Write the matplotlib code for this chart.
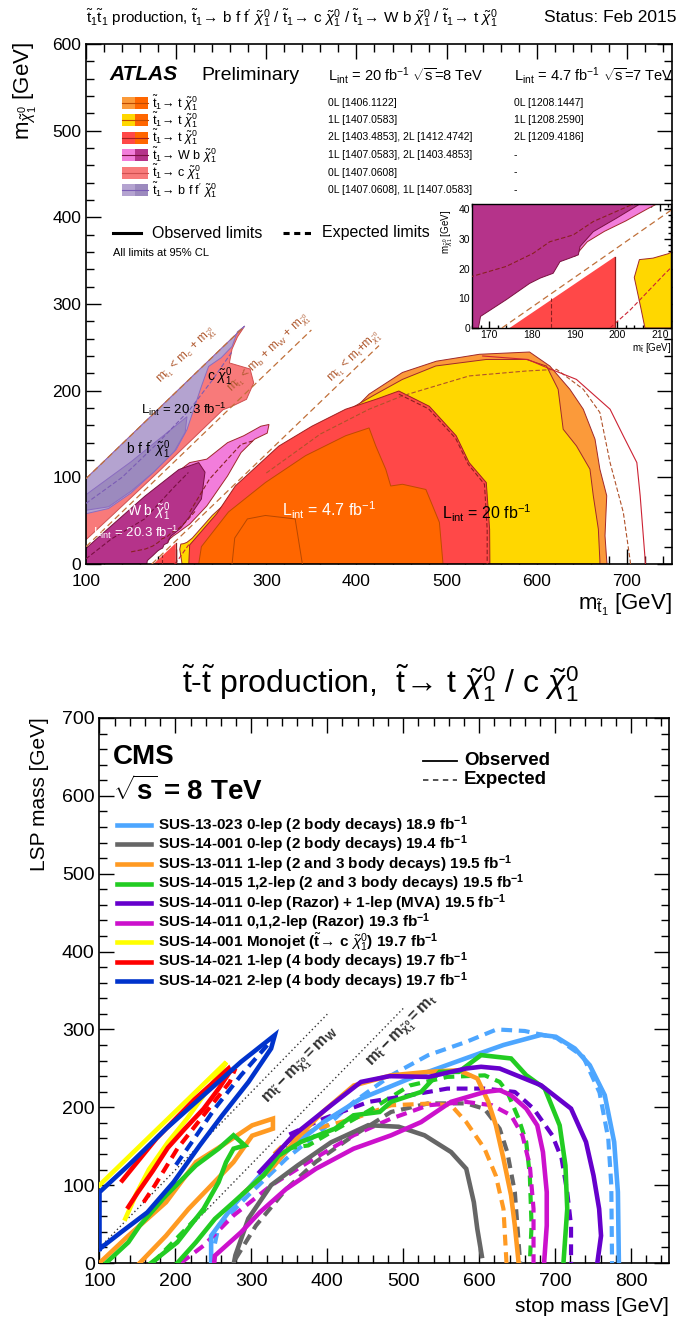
import matplotlib
matplotlib.use("Agg")
import matplotlib.pyplot as plt
from matplotlib.ticker import MultipleLocator
from matplotlib.patches import Rectangle
from matplotlib.lines import Line2D

plt.rcParams["font.family"] = ["Liberation Sans", "DejaVu Sans"]
plt.rcParams["mathtext.fontset"] = "custom"
plt.rcParams["mathtext.rm"] = "Liberation Sans"
plt.rcParams["mathtext.it"] = "Liberation Sans:italic"
plt.rcParams["mathtext.bf"] = "Liberation Sans:bold"
plt.rcParams["mathtext.sf"] = "Liberation Sans"

# ---------------- ATLAS contours (m_stop, m_LSP) in GeV ----------------
cc_salmon = [(100, 28), (100, 98.5), (276, 274.5), (268, 262), (262, 248), (259, 232),
             (282, 225), (286, 209), (278, 190), (262, 182), (252, 178), (180, 106), (130, 57)]
bff_light = [(100, 58), (100, 98.5), (276, 274.5), (268, 268), (262, 251), (250, 238),
             (236, 228), (228, 205), (220, 180), (212, 155), (200, 132), (175, 106),
             (150, 82), (125, 64)]
bff_dark = [(100, 62), (100, 80), (150, 118), (200, 160), (212, 170), (210, 152),
            (198, 130), (175, 106), (150, 84), (125, 66)]
wb_pink = [(190, 24), (193, 29), (197, 32.5), (202, 36), (207, 40), (215, 46), (234, 67),
           (257, 101.6), (272, 128.6), (287, 144), (301, 151), (303, 161), (294, 159),
           (275, 148), (257, 140), (234, 121), (215, 117), (200, 105)]
wb_magenta = [(100, 0), (100, 18), (128, 44), (165, 78), (203, 109), (225, 117), (232, 106),
              (228, 75), (215, 55), (205.3, 41.7), (199.8, 36.9), (194.4, 32.4), (191.3, 27.4),
              (190.9, 24.6), (188.9, 23.5), (186.6, 22.3), (185, 18.4), (182, 16.8),
              (179.5, 15), (174, 9.5), (168, 3.9), (167.5, 0)]
tt_0l = [(300, 0), (380, 160), (414, 196), (451, 221), (488.6, 234), (536.5, 242),
         (592, 244.6), (614.5, 228.4), (636.7, 201.6), (651.6, 178.6), (664.6, 144),
         (670, 109.4), (677.6, 78.7), (675.7, 32.6), (677.6, 3.8), (678, 0)]
tt_1l = [(206.5, 0), (205.5, 7), (204, 17), (205.2, 23), (208.4, 23.5), (212, 25), (218, 30),
         (240, 56), (284, 98), (329, 136), (373, 167), (418, 194), (451, 213), (488, 228.5),
         (544, 236), (588.5, 236), (610.8, 228.4), (623.7, 201.6), (629.3, 155.5),
         (644, 136.3), (659, 109.4), (662.7, 78.7), (668.3, 40.3), (670, 3.8), (670, 0)]
tt_2l = [(214, 0), (215, 22), (230, 40), (245, 58), (265.6, 90), (313.8, 136), (350.6, 159),
         (388, 178.6), (421.5, 190), (447, 199.6), (480.8, 182), (510.6, 148), (525, 117),
         (544, 94), (547.7, 40), (548, 0)]
tt_2l_low = [(174.8, 0), (199.5, 24), (199.5, 0)]
tt_7tev = [(225, 0), (228, 20), (258, 60), (299, 94), (343.5, 125), (388, 148), (414, 157),
           (421.5, 136), (432.6, 109), (438, 90), (451, 92), (477, 86), (492, 48), (496, 0)]
tt_7tev_in = [(262, 0), (265, 30), (279, 52), (299, 56), (332, 52), (340, 0)]
tt_1l_exp = [(300, 105), (360, 150), (414, 178.6), (451, 194), (525, 217), (588.5, 222.7),
             (622, 224.6), (651.6, 201.6), (670, 174.8), (681.3, 117), (696, 59.5),
             (703.6, 3.8), (704, 0)]
tt_0l_thin = [(540, 240), (590, 236), (607, 228.4), (644, 213), (681.3, 178.6), (696, 147.8),
              (711, 117), (714.7, 78.7), (720.3, 3.8), (720.5, 0)]
tt_2l_exp = [(447, 196), (480, 179), (510, 145), (524, 115), (542, 92), (545, 40), (545, 0)]
tt_2l_low_exp = [(184.6, 0), (184.6, 10)]
tt_1l_low_exp = [(198.3, 0), (203, 6), (207, 12), (211, 18), (214, 22.3)]
wb_exp_a = [(100, 6), (128, 28.8), (165, 52), (198.8, 90), (213.6, 105.6)]
wb_exp_b = [(150, 14), (165.9, 17.3), (174, 20.7), (180.3, 25.1), (184.2, 29), (189.7, 31.3),
            (194.4, 35.8), (200.6, 39.7), (203.75, 41.7), (212, 50), (222, 62)]
wb_pink_exp = [(215, 60), (237, 98), (257, 121), (272, 138), (285, 142)]
bff_exp = [(100, 70), (140, 100), (180, 140), (215, 178), (240, 212), (262, 245)]

# kinematic limits: delta m = m_stop - m_LSP, and end of the drawn line
kin_dm = [1.5, 80.0, 173.0]
kin_end = [276.0, 350.0, 425.0]
kin_labels = [r"m$_{\tilde{\mathrm{t}}_{1}}$ < m$_{\mathrm{c}}$ + m$_{\tilde{\chi}^{0}_{1}}$",
              r"m$_{\tilde{\mathrm{t}}_{1}}$ < m$_{\mathrm{b}}$ + m$_{\mathrm{W}}$ + m$_{\tilde{\chi}^{0}_{1}}$",
              r"m$_{\tilde{\mathrm{t}}_{1}}$ < m$_{\mathrm{t}}$+m$_{\tilde{\chi}^{0}_{1}}$"]
kin_label_pos = [(212, 241), (303, 243), (398, 239)]

arrow = r"\!\rightarrow\!"
legend_text = [rf"$\tilde{{\mathrm{{t}}}}_{{1}}{arrow}$ t $\tilde{{\chi}}^{{0}}_{{1}}$",
               rf"$\tilde{{\mathrm{{t}}}}_{{1}}{arrow}$ t $\tilde{{\chi}}^{{0}}_{{1}}$",
               rf"$\tilde{{\mathrm{{t}}}}_{{1}}{arrow}$ t $\tilde{{\chi}}^{{0}}_{{1}}$",
               rf"$\tilde{{\mathrm{{t}}}}_{{1}}{arrow}$ W b $\tilde{{\chi}}^{{0}}_{{1}}$",
               rf"$\tilde{{\mathrm{{t}}}}_{{1}}{arrow}$ c $\tilde{{\chi}}^{{0}}_{{1}}$",
               rf"$\tilde{{\mathrm{{t}}}}_{{1}}{arrow}$ b f f$^{{\prime}}$ $\tilde{{\chi}}^{{0}}_{{1}}$"]
refs_8tev = ["0L [1406.1122]", "1L [1407.0583]", "2L [1403.4853], 2L [1412.4742]",
             "1L [1407.0583], 2L [1403.4853]", "0L [1407.0608]",
             "0L [1407.0608], 1L [1407.0583]"]
refs_7tev = ["0L [1208.1447]", "1L [1208.2590]", "2L [1209.4186]", "-", "-", "-"]

# ---------------- CMS curves (m_stop, m_LSP) in GeV ----------------
cms_names = [r"SUS-13-023 0-lep (2 body decays) 18.9 fb$^{\mathbf{-1}}$",
             r"SUS-14-001 0-lep (2 body decays) 19.4 fb$^{\mathbf{-1}}$",
             r"SUS-13-011 1-lep (2 and 3 body decays) 19.5 fb$^{\mathbf{-1}}$",
             r"SUS-14-015 1,2-lep (2 and 3 body decays) 19.5 fb$^{\mathbf{-1}}$",
             r"SUS-14-011 0-lep (Razor) + 1-lep (MVA) 19.5 fb$^{\mathbf{-1}}$",
             r"SUS-14-011 0,1,2-lep (Razor) 19.3 fb$^{\mathbf{-1}}$",
             r"SUS-14-001 Monojet ($\tilde{\mathbf{t}}\!\rightarrow\!$ c $\tilde{\chi}^{0}_{1}$) 19.7 fb$^{\mathbf{-1}}$",
             r"SUS-14-021 1-lep (4 body decays) 19.7 fb$^{\mathbf{-1}}$",
             r"SUS-14-021 2-lep (4 body decays) 19.7 fb$^{\mathbf{-1}}$"]
cms_colors = ["#4da6ff", "#666666", "#ff9a22", "#22cc22", "#6600cc", "#cc11cc",
              "#ffff00", "#ff0000", "#0033cc"]

sus13023_obs = [(247, 0), (247, 35), (276.5, 74), (311, 112), (350.6, 147), (395, 181),
                (444, 211), (508.6, 237), (582.7, 263), (632, 280), (681.5, 293), (701, 290.6),
                (726, 275.5), (745.7, 254), (765.4, 215.5), (777.8, 155.4), (782.7, 91), (784, 0)]
sus13023_exp = [(252, 25), (257, 48), (296, 87), (346, 134), (395, 172.5), (435, 207),
                (484, 241), (533, 267), (583, 284), (623, 300), (660, 298), (702, 289),
                (737, 265), (758.5, 219), (770, 160), (774, 100), (775, 0)]
sus14001_obs = [(277, 0), (279, 10), (296, 57), (326, 100), (360.5, 125), (405, 155),
                (454, 177), (494, 175), (528, 164), (563, 142.5), (583, 121), (593, 78),
                (597.5, 44), (603.5, 9)]
sus14001_exp = [(279, 5), (306, 48), (346, 95), (385, 130), (435, 164), (484, 194),
                (533, 205), (583, 205), (607, 198), (627, 172.5), (637, 142.5), (647, 91),
                (654, 0)]
sus13011_obs = [(290, 90), (330, 125), (360, 160), (395, 195), (435, 228), (484, 241),
                (533, 245.5), (573, 247.6), (597.5, 237), (612, 207), (622, 177), (632, 134),
                (642, 87), (647, 48), (652, 0)]
sus13011_exp = [(330, 140), (345.7, 155), (385, 172.5), (434.6, 185.4), (484, 202.6),
                (533, 204.7), (563, 202.6), (583, 181), (607, 147), (622, 112), (632, 69.5),
                (636, 0)]
sus13011_3b = [(100, 0), (138, 35), (187.6, 78), (227, 129.6), (261.7, 151), (301, 176.8),
               (328.4, 185.4), (328.4, 172.5), (301, 163.5), (276.5, 129.6), (247, 99.6),
               (217.3, 69.5), (187.6, 35), (153, 0)]
sus14015_obs = [(202.5, 0), (227, 26.6), (252, 56.7), (276.5, 78), (301, 99.6), (316, 112.4),
                (336, 138), (365, 155.4), (410, 172.5), (434.6, 189.7), (469, 194), (484, 207),
                (523.5, 219.7), (548, 245.5), (573, 245.5), (602.5, 267), (642, 262.7),
                (662, 241.2), (686.4, 224), (706, 176.8), (713.6, 125.3), (716, 69.5), (711, 0)]
sus14015_exp = [(345.7, 147), (375, 151), (405, 168), (459, 198), (508.6, 228), (558, 239),
                (607.4, 241), (627, 232.6), (637, 219.7), (652, 185.4), (662, 155.4),
                (666.7, 112.4), (669, 48), (666.7, 0)]
sus14015_3b = [(108.6, 0), (138, 26.6), (153, 48), (187.6, 86.7), (227, 125.3),
               (256.8, 146.8), (276.5, 164), (291.4, 151), (276.5, 146.8), (266.7, 129.6),
               (256.8, 103.8), (237, 69.5), (202.5, 26.6), (168, 0)]
sus14015_3b_exp = [(170, 0), (190, 20), (215, 45), (240, 70)]
sus14011a_obs = [(311, 117), (355.6, 164), (405, 202.6), (444.4, 232.6), (482, 240),
                 (533.3, 239), (582.7, 249.8), (602.5, 252), (627, 249.8), (681.5, 228.3),
                 (721, 198.3), (740.7, 155.4), (750.6, 112.4), (758, 69.5), (760.5, 35),
                 (755.6, 0)]
sus14011a_exp = [(350, 165), (395, 185.4), (454.3, 206.9), (508.6, 215.5), (558, 224),
                 (607.4, 224), (647, 219.7), (671.6, 198.3), (696.3, 164), (708.6, 134),
                 (716, 91), (721, 48), (721, 0)]
sus14011b_obs = [(251, 0), (252, 9.4), (286.4, 39.5), (311, 65), (345.7, 95), (385, 121),
                 (434.6, 146.8), (484, 164), (523.5, 181), (563, 207), (607.4, 219.7),
                 (627, 222), (642, 215.5), (662, 198.3), (676.5, 176.8), (684, 142.5),
                 (689, 91), (689, 48), (685.5, 0)]
sus14011b_exp = [(207, 0), (237, 22.3), (276.5, 61), (326, 99.6), (375, 129.6), (434.6, 164),
                 (484, 185.4), (533.3, 202.6), (582.7, 206.9), (617, 202.6), (642, 189.7),
                 (657, 164), (666.7, 125.3), (671.6, 69.5), (671.6, 0)]
monojet_obs = [(100, 100), (267, 258), (255, 240), (237, 215), (215, 185), (190, 155),
               (165, 120), (148, 88), (140, 70), (134, 57)]
sus14021a_obs = [(138, 72), (150, 90), (170, 118), (190, 148), (212, 172), (237, 198),
                 (257, 224), (272, 246), (270, 250), (250, 232), (225, 210), (200, 185),
                 (175, 160), (150, 130), (130, 106)]
sus14021a_exp = [(158, 78), (172.8, 99.6), (202.5, 146.8), (237, 189.7), (271.6, 232.6),
                 (279, 250)]
sus14021b_obs = [(100, 18), (100, 91), (138, 125.3), (187.6, 172.5), (237, 215.5),
                 (286.4, 258.4), (330.9, 292.7), (326, 275.5), (296.3, 232.6), (261.7, 189.7),
                 (232, 151), (197.5, 103.8), (163, 65), (128.4, 39.5), (100, 18)]
sus14021b_exp = [(321, 279.8), (286.4, 241.2), (251.8, 198.3), (225, 160), (200, 125)]

cms_obs = [[sus13023_obs], [sus14001_obs], [sus13011_obs, sus13011_3b],
           [sus14015_obs, sus14015_3b], [sus14011a_obs], [sus14011b_obs], [monojet_obs],
           [sus14021a_obs], [sus14021b_obs]]
cms_exp = [[sus13023_exp], [sus14001_exp], [sus13011_exp], [sus14015_exp, sus14015_3b_exp],
           [sus14011a_exp], [sus14011b_exp], [], [sus14021a_exp], [sus14021b_exp]]

cms_kin_dm = [80.4, 173.0]
cms_kin_range = [(100, 400), (173, 501)]
cms_kin_labels = [r"$\mathbf{m_{\tilde{t}} - m_{\tilde{\chi}^{0}_{1}} = m_{W}}$",
                  r"$\mathbf{m_{\tilde{t}} - m_{\tilde{\chi}^{0}_{1}} = m_{t}}$"]
cms_kin_label_pos = [(366, 252), (500, 297)]

# ---------------- figure ----------------
W, H = 678, 1320
fig = plt.figure(figsize=(W / 100, H / 100), dpi=100)


def box(l, t, r, b):
    return [l / W, 1 - b / H, (r - l) / W, (b - t) / H]


def fx(px):
    return px / W


def fy(py):
    return 1 - py / H


def xy(pts):
    return [p[0] for p in pts], [p[1] for p in pts]


def root_axes(ax, xmaj, xmin, ymaj, ymin, lmaj, lmin, size):
    ax.xaxis.set_major_locator(MultipleLocator(xmaj))
    ax.xaxis.set_minor_locator(MultipleLocator(xmin))
    ax.yaxis.set_major_locator(MultipleLocator(ymaj))
    ax.yaxis.set_minor_locator(MultipleLocator(ymin))
    ax.tick_params(which="both", direction="in", top=True, right=True,
                   labelsize=size, width=1.0)
    ax.tick_params(which="major", length=lmaj)
    ax.tick_params(which="minor", length=lmin)
    for s in ax.spines.values():
        s.set_linewidth(1.2)


ax1 = fig.add_axes(box(86, 44, 672, 564))
axin = fig.add_axes(box(472, 204, 671, 328))
ax2 = fig.add_axes(box(99.5, 718, 669, 1263))

edge = "#a0282a"
regions = [(cc_salmon, "#f87a7a", "#d05050"), (bff_light, "#b4a3d0", "#8a6cc0"),
           (bff_dark, "#9c8abe", "#8a6cc0"), (wb_pink, "#f27ddb", edge),
           (wb_magenta, "#b5338a", "#7a1040"), (tt_0l, "#fb9a3a", edge),
           (tt_1l, "#ffd700", edge), (tt_2l, "#ff4848", "#a02020"),
           (tt_2l_low, "#ff4848", "none"), (tt_7tev, "#ff6600", "#c04a00")]


def draw_atlas(ax, lw):
    for pts, fc, ec in regions:
        xs, ys = xy(pts)
        ax.fill(xs, ys, facecolor=fc, edgecolor=ec, linewidth=0.7 * lw, zorder=2)
    xs, ys = xy(tt_7tev_in)
    ax.plot(xs, ys, color="#b84800", lw=0.7 * lw, zorder=3)
    for pts, c, ls in [(tt_1l_exp, "#b0522a", (0, (4, 2))), (tt_0l_thin, "#cc2233", "-"),
                       (tt_2l_exp, "#8a2020", (0, (4, 2))), (tt_2l_low_exp, "#8a2020", (0, (4, 2))),
                       (tt_1l_low_exp, "#cc2233", (0, (4, 2))), (wb_exp_a, "#7a1040", (0, (4, 2))),
                       (wb_exp_b, "#8a2020", (0, (4, 2))), (wb_pink_exp, "#8a2020", (0, (4, 2))),
                       (bff_exp, "#7b5cb5", (0, (4, 2)))]:
        xs, ys = xy(pts)
        ax.plot(xs, ys, color=c, lw=0.8 * lw, ls=ls, zorder=3)
    xs, ys = xy([(199.5, 0), (199.5, 24)])
    ax.plot(xs, ys, color="#8a2020", lw=0.9 * lw, zorder=3)
    for dm, end in zip(kin_dm, kin_end):
        m0 = max(100.0, dm)
        ax.plot([m0, end], [m0 - dm, end - dm], color="#c0703a", lw=0.9 * lw,
                ls=(0, (5, 3)), zorder=4)


draw_atlas(ax1, 1.0)
ax1.set_xlim(100, 750)
ax1.set_ylim(0, 600)
root_axes(ax1, 100, 20, 100, 20, 11, 5.5, 12.5)
ax1.tick_params(axis="x", pad=7)

for (xm, ym), s in zip(kin_label_pos, kin_labels):
    ax1.text(xm, ym, s, color="#b05a30", fontsize=8.5, rotation=45,
             transform_rotates_text=True, rotation_mode="anchor",
             ha="center", va="center", zorder=5)

ax1.text(248, 216, r"c $\tilde{\chi}^{0}_{1}$", fontsize=10, ha="center", va="center", zorder=6)
ax1.text(209, 178, r"L$_{\mathrm{int}}$ = 20.3 fb$^{-1}$", fontsize=9.5, ha="center",
         va="center", zorder=6)
ax1.text(169, 132, r"b f f$^{\prime}$ $\tilde{\chi}^{0}_{1}$", fontsize=10, ha="center",
         va="center", zorder=6)
ax1.text(169, 60, r"W b $\tilde{\chi}^{0}_{1}$", fontsize=10, color="white", ha="center",
         va="center", zorder=6)
ax1.text(155, 36, r"L$_{\mathrm{int}}$ = 20.3 fb$^{-1}$", fontsize=9.5, color="white",
         ha="center", va="center", zorder=6)
ax1.text(370, 62, r"L$_{\mathrm{int}}$ = 4.7 fb$^{-1}$", fontsize=11.5, color="white",
         ha="center", va="center", zorder=6)
ax1.text(545, 58, r"L$_{\mathrm{int}}$ = 20 fb$^{-1}$", fontsize=11.5, ha="center",
         va="center", zorder=6)

# inset
draw_atlas(axin, 1.0)
axin.set_xlim(166, 212.6)
axin.set_ylim(0, 41.7)
root_axes(axin, 10, 2, 10, 2, 5, 2.5, 7.5)
axin.tick_params(pad=1.5)
for s in axin.spines.values():
    s.set_linewidth(1.0)
fig.text(fx(447), fy(210), r"m$_{\tilde{\chi}^{0}_{1}}$ [GeV]", rotation=90, fontsize=7,
         ha="center", va="top")
fig.text(fx(671), fy(348), r"m$_{\tilde{\mathrm{t}}}$ [GeV]", fontsize=7, ha="right",
         va="center")

# ATLAS header, legend and axis titles
chi = r"\tilde{\chi}^{0}_{1}"
t1 = r"\tilde{\mathrm{t}}_{1}"
fig.text(fx(86), fy(18),
         rf"${t1}{t1}$ production, ${t1}{arrow}$ b f f$^{{\prime}}$ ${chi}$ / "
         rf"${t1}{arrow}$ c ${chi}$ / ${t1}{arrow}$ W b ${chi}$ / "
         rf"${t1}{arrow}$ t ${chi}$", fontsize=11, ha="left", va="center")
fig.text(fx(676), fy(18), "Status: Feb 2015", fontsize=12.5, ha="right", va="center")
fig.text(fx(25), fy(42), rf"m$_{{{chi}}}$ [GeV]", rotation=90, fontsize=16,
         ha="center", va="top")
fig.text(fx(672), fy(605), rf"m$_{{{t1}}}$ [GeV]", fontsize=16, ha="right", va="center")

fig.text(fx(109), fy(75), "ATLAS", fontsize=15, fontweight="bold", fontstyle="italic",
         ha="left", va="center")
fig.text(fx(201), fy(75), "Preliminary", fontsize=14, ha="left", va="center")
fig.text(fx(328), fy(76), r"L$_{\mathrm{int}}$ = 20 fb$^{-1}$ $\sqrt{\mathrm{s}}$=8 TeV",
         fontsize=10.5, ha="left", va="center")
fig.text(fx(514), fy(76), r"L$_{\mathrm{int}}$ = 4.7 fb$^{-1}$ $\sqrt{\mathrm{s}}$=7 TeV",
         fontsize=10.5, ha="left", va="center")

box_colors = [("#fb9a3a", "#ff6600", "#c04a00"), ("#ffd700", "#ff6600", "#c04a00"),
              ("#ff4848", "#ff6600", "#a02020"), ("#f27ddb", "#b5338a", "#7a1040"),
              ("#f87a7a", "#f87a7a", "#d05050"), ("#b4a3d0", "#9c8abe", "#7b5cb5")]
row_y = [103, 120, 137.5, 155, 172.5, 190]
for ry, (c1, c2, lc), lab, r8, r7 in zip(row_y, box_colors, legend_text, refs_8tev, refs_7tev):
    fig.add_artist(Rectangle((fx(122), fy(ry + 6)), 13 / W, 12 / H, transform=fig.transFigure,
                             facecolor=c1, edgecolor="none"))
    fig.add_artist(Rectangle((fx(135), fy(ry + 6)), 13 / W, 12 / H, transform=fig.transFigure,
                             facecolor=c2, edgecolor="none"))
    fig.add_artist(Line2D([fx(122), fx(148)], [fy(ry), fy(ry)], transform=fig.transFigure,
                          color=lc, lw=0.8))
    fig.text(fx(152), fy(ry), lab, fontsize=9, ha="left", va="center")
    fig.text(fx(328), fy(ry), r8, fontsize=7.5, ha="left", va="center")
    fig.text(fx(514), fy(ry), r7, fontsize=7.5, ha="left", va="center")

fig.add_artist(Line2D([fx(113), fx(141)], [fy(233), fy(233)], transform=fig.transFigure,
                      color="black", lw=2.2))
fig.text(fx(152), fy(233), "Observed limits", fontsize=11.5, ha="left", va="center")
fig.add_artist(Line2D([fx(283), fx(311)], [fy(233), fy(233)], transform=fig.transFigure,
                      color="black", lw=2.2, ls=(0, (2, 1.5))))
fig.text(fx(322), fy(233), "Expected limits", fontsize=11.5, ha="left", va="center")
fig.text(fx(113), fy(253), "All limits at 95% CL", fontsize=8, ha="left", va="center")

# ---------------- CMS panel ----------------
for dm, (m0, m1) in zip(cms_kin_dm, cms_kin_range):
    ax2.plot([m0, m1], [m0 - dm, m1 - dm], color="#333333", lw=1.0, ls=(0, (1, 2)), zorder=2)
for (xm, ym), s in zip(cms_kin_label_pos, cms_kin_labels):
    ax2.text(xm, ym, s, color="#333333", fontsize=11.5, rotation=45,
             transform_rotates_text=True, rotation_mode="anchor",
             ha="center", va="center", zorder=2)

for color, obs_list, exp_list in zip(cms_colors, cms_obs, cms_exp):
    for pts in exp_list:
        xs, ys = xy(pts)
        ax2.plot(xs, ys, color=color, lw=3.0, ls=(0, (2.6, 1.6)), zorder=3)
    for pts in obs_list:
        xs, ys = xy(pts)
        ax2.plot(xs, ys, color=color, lw=3.3, zorder=4, solid_joinstyle="miter")

ax2.set_xlim(100, 850)
ax2.set_ylim(0, 700)
root_axes(ax2, 100, 20, 100, 20, 11, 5.5, 14)
ax2.tick_params(axis="x", pad=7)


# legend drawn in axes fraction coordinates
def afx(px):
    return (px - 99.5) / (669 - 99.5)


def afy(py):
    return (1263 - py) / (1263 - 718)


ax2.text(afx(113), afy(757), "CMS", transform=ax2.transAxes, fontsize=20,
         fontweight="bold", ha="left", va="center")
ax2.text(afx(113), afy(791), r"$\sqrt{\mathbf{s}}$ = 8 TeV", transform=ax2.transAxes,
         fontsize=20, fontweight="bold", ha="left", va="center")
ax2.plot([afx(423), afx(457)], [afy(761), afy(761)], transform=ax2.transAxes,
         color="black", lw=1.3)
ax2.text(afx(464), afy(761), "Observed", transform=ax2.transAxes, fontsize=13.5,
         fontweight="bold", ha="left", va="center")
ax2.plot([afx(423), afx(457)], [afy(780), afy(780)], transform=ax2.transAxes,
         color="#444444", lw=1.3, ls=(0, (3, 2.5)))
ax2.text(afx(464), afy(780), "Expected", transform=ax2.transAxes, fontsize=13.5,
         fontweight="bold", ha="left", va="center")
for i, (name, color) in enumerate(zip(cms_names, cms_colors)):
    py = 825 + 19.5 * i
    ax2.plot([afx(117), afx(151)], [afy(py), afy(py)], transform=ax2.transAxes,
             color=color, lw=3.3)
    ax2.text(afx(158), afy(py), name, transform=ax2.transAxes, fontsize=11,
             fontweight="bold", ha="left", va="center")

fig.text(fx(380), fy(683),
         rf"$\tilde{{\mathrm{{t}}}}$-$\tilde{{\mathrm{{t}}}}$ production,  "
         rf"$\tilde{{\mathrm{{t}}}}{arrow}$ t $\tilde{{\chi}}^{{0}}_{{1}}$ / c "
         rf"$\tilde{{\chi}}^{{0}}_{{1}}$", fontsize=23, ha="center", va="center")
fig.text(fx(40), fy(717), "LSP mass [GeV]", rotation=90, fontsize=15, ha="center", va="top")
fig.text(fx(669), fy(1307), "stop mass [GeV]", fontsize=15, ha="right", va="center")

fig.savefig("out.png", dpi=100)
